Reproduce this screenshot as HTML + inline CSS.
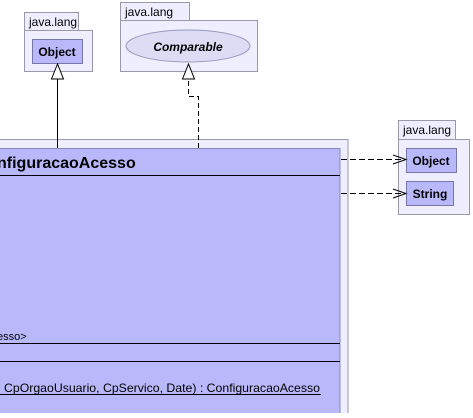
<!DOCTYPE html>
<html><head><style>
body{margin:0;background:#fff;width:473px;height:413px;overflow:hidden}
svg text{font-family:"Liberation Sans",sans-serif}
</style></head><body>
<svg width="473" height="413" xmlns="http://www.w3.org/2000/svg">
<rect x="24.5" y="12.5" width="54" height="18" fill="#eeeeff" stroke="#9999aa"/>
<rect x="24.5" y="30.5" width="68" height="41" fill="#eeeeff" stroke="#9999aa"/>
<text x="29" y="26" font-size="12">java.lang</text>
<rect x="32.5" y="39.5" width="50" height="24" fill="#b8b8fb" stroke="#7777aa"/>
<text x="57" y="56" font-size="12" font-weight="bold" text-anchor="middle">Object</text>
<rect x="120.5" y="2.5" width="69" height="18" fill="#eeeeff" stroke="#9999aa"/>
<rect x="120.5" y="20.5" width="137" height="51" fill="#eeeeff" stroke="#9999aa"/>
<text x="125" y="16" font-size="12">java.lang</text>
<ellipse cx="188" cy="46" rx="62" ry="16" fill="#dcdcf5" stroke="#9999bb"/>
<text x="188" y="51" font-size="12" font-weight="bold" font-style="italic" text-anchor="middle">Comparable</text>
<rect x="-5" y="139.5" width="353" height="290" fill="#eeeeff" stroke="#9999aa"/>
<rect x="-5" y="148.5" width="345" height="280" fill="#b8b8fb" stroke="#8888bb"/>
<line x1="0" y1="175.5" x2="340" y2="175.5" stroke="#000"/>
<line x1="0" y1="343.5" x2="340" y2="343.5" stroke="#000"/>
<line x1="0" y1="361.5" x2="340" y2="361.5" stroke="#000"/>
<text x="-3" y="168" font-size="16" font-weight="bold">nfiguracaoAcesso</text>
<text x="-3" y="340" font-size="11">esso&gt;</text>
<text x="4" y="392" font-size="12" textLength="316" lengthAdjust="spacingAndGlyphs">CpOrgaoUsuario, CpServico, Date) : ConfiguracaoAcesso</text>
<line x1="0" y1="394.5" x2="321" y2="394.5" stroke="#000"/>
<line x1="57.5" y1="79" x2="57.5" y2="148" stroke="#000"/>
<polygon points="57.5,64 51.5,79 63.5,79" fill="#fff" stroke="#000"/>
<polyline points="198.5,148 198.5,96.5 188.5,96.5 188.5,79" fill="none" stroke="#000" stroke-dasharray="5,3"/>
<polygon points="188.5,64 182.5,79 194.5,79" fill="#fff" stroke="#000"/>
<rect x="398.5" y="120.5" width="57" height="19" fill="#eeeeff" stroke="#9999aa"/>
<rect x="398.5" y="139.5" width="71" height="75" fill="#eeeeff" stroke="#9999aa"/>
<text x="403" y="134" font-size="12">java.lang</text>
<rect x="406.5" y="148.5" width="50" height="24" fill="#b8b8fb" stroke="#7777aa"/>
<text x="431" y="165" font-size="12" font-weight="bold" text-anchor="middle">Object</text>
<rect x="406.5" y="181.5" width="47" height="24" fill="#b8b8fb" stroke="#7777aa"/>
<text x="430" y="198" font-size="12" font-weight="bold" text-anchor="middle">String</text>
<line x1="341" y1="159.5" x2="406" y2="159.5" stroke="#000" stroke-dasharray="6,3"/>
<polyline points="393,155 406,159.5 393,164" fill="none" stroke="#000"/>
<line x1="341" y1="193.5" x2="406" y2="193.5" stroke="#000" stroke-dasharray="6,3"/>
<polyline points="393,189 406,193.5 393,198" fill="none" stroke="#000"/>
</svg>
</body></html>
